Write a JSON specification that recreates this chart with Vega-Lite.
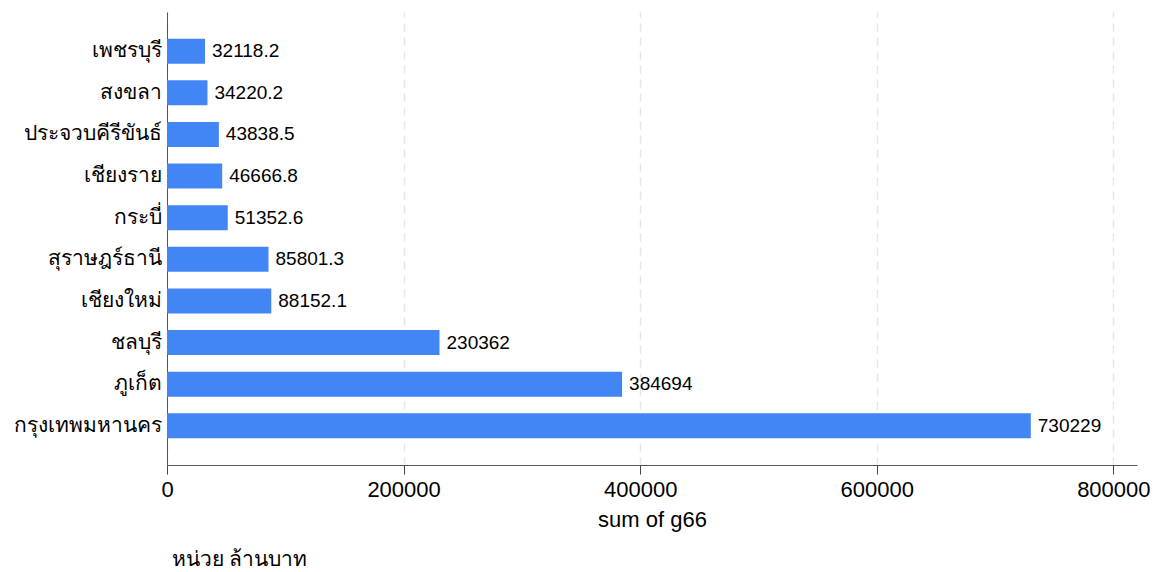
{
  "$schema": "https://vega.github.io/schema/vega-lite/v6.json",
  "autosize": {"type": "none"},
  "padding": {"left": 167, "top": 12, "right": 17, "bottom": 107},
  "width": 970,
  "height": 453,
  "background": "white",
  "title": {
    "text": "หน่วย ล้านบาท",
    "orient": "bottom",
    "anchor": "start",
    "frame": "group",
    "offset": 19,
    "dx": 5,
    "fontSize": 21,
    "fontWeight": "normal",
    "font": "Noto Sans",
    "color": "#000000"
  },
  "data": {
    "values": [
      {"province": "เพชรบุรี", "g66": 32118.2, "label": "32118.2"},
      {"province": "สงขลา", "g66": 34220.2, "label": "34220.2"},
      {"province": "ประจวบคีรีขันธ์", "g66": 43838.5, "label": "43838.5"},
      {"province": "เชียงราย", "g66": 46666.8, "label": "46666.8"},
      {"province": "กระบี่", "g66": 51352.6, "label": "51352.6"},
      {"province": "สุราษฎร์ธานี", "g66": 85801.3, "label": "85801.3"},
      {"province": "เชียงใหม่", "g66": 88152.1, "label": "88152.1"},
      {"province": "ชลบุรี", "g66": 230362, "label": "230362"},
      {"province": "ภูเก็ต", "g66": 384694, "label": "384694"},
      {"province": "กรุงเทพมหานคร", "g66": 730229, "label": "730229"}
    ]
  },
  "encoding": {
    "y": {
      "field": "province",
      "type": "nominal",
      "sort": null,
      "scale": {"paddingInner": 0.4, "paddingOuter": 0.64},
      "axis": {
        "title": null,
        "labelFontSize": 21,
        "labelFont": "Noto Sans",
        "labelColor": "#000000",
        "labelPadding": 6,
        "ticks": false,
        "domainColor": "#555555",
        "domainWidth": 1,
        "grid": false
      }
    },
    "x": {
      "field": "g66",
      "type": "quantitative",
      "scale": {"domain": [0, 820000], "nice": false},
      "axis": {
        "title": "sum of g66",
        "titleFontSize": 22,
        "titleFontWeight": "normal",
        "titleFont": "Liberation Sans",
        "titleColor": "#000000",
        "titlePadding": 9,
        "values": [0, 200000, 400000, 600000, 800000],
        "format": "d",
        "labelFontSize": 22,
        "labelFont": "Liberation Sans",
        "labelColor": "#000000",
        "labelPadding": 5,
        "labelFlush": false,
        "tickSize": 9,
        "tickColor": "#444444",
        "domainColor": "#555555",
        "grid": true,
        "gridColor": "#e6e6e6",
        "gridDash": [8, 6],
        "gridWidth": 1.5
      }
    }
  },
  "layer": [
    {
      "mark": {"type": "bar", "color": "#4285F4"}
    },
    {
      "mark": {"type": "text", "align": "left", "baseline": "middle", "dx": 7, "fontSize": 19, "font": "Liberation Sans", "color": "#000000"},
      "encoding": {"text": {"field": "label"}}
    }
  ],
  "config": {"view": {"stroke": null}}
}
